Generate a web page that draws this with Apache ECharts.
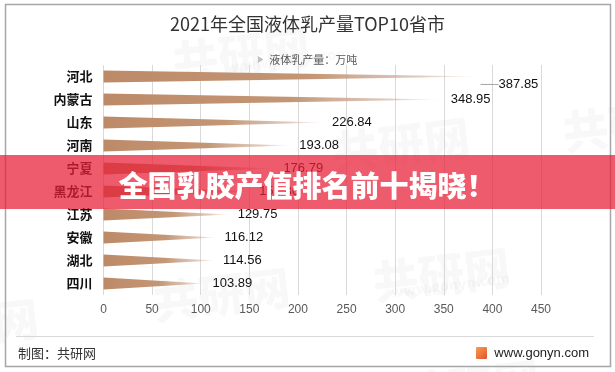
<!DOCTYPE html>
<html>
<head>
<meta charset="utf-8">
<script src="https://cdn.jsdelivr.net/npm/echarts@6/dist/echarts.min.js"></script>
<style>
html,body{margin:0;padding:0;background:#fff;}
#main{width:615px;height:372px;}
</style>
</head>
<body>
<div id="main"></div>
<script>
var categories = ['河北','内蒙古','山东','河南','宁夏','黑龙江','江苏','安徽','湖北','四川'];
var values = [387.85, 348.95, 226.84, 193.08, 176.79, 151.86, 129.75, 116.12, 114.56, 103.89];
var xTicks = [0, 50, 100, 150, 200, 250, 300, 350, 400, 450];
var titleText = '2021年全国液体乳产量TOP10省市';
var seriesName = '液体乳产量：万吨';
var bannerText = '全国乳胶产值排名前十揭晓！';

var cjk = '"Noto Sans CJK SC", "Noto Sans", sans-serif';
var chart = echarts.init(document.getElementById('main'), null, {renderer: 'canvas'});

function wm(x, y, size, rot, text) {
  return {
    type: 'text', x: x, y: y, rotation: rot, z: 0, silent: true,
    style: {text: text, fontSize: size, fontWeight: 900, fontFamily: cjk, fill: 'rgba(0,0,0,0.028)'}
  };
}

var barData = values.map(function (v, i) {
  var item = {value: v};
  if (i === 0) {
    item.labelLine = {show: true, length2: 4, lineStyle: {color: '#A6A6A6', width: 1}};
  }
  return item;
});

var option = {
  backgroundColor: '#fff',
  animation: false,
  title: {
    text: titleText, left: 'center', top: 10,
    textStyle: {fontSize: 18, fontWeight: 'normal', color: '#333', fontFamily: cjk}
  },
  legend: {
    top: 49, left: 'center',
    itemWidth: 7, itemHeight: 7, itemGap: 4,
    icon: 'path://M0,0 L8,5 L0,10 Z',
    textStyle: {fontSize: 11, color: '#595959', fontFamily: cjk},
    data: [{name: seriesName, itemStyle: {color: '#BFBFBF'}}]
  },
  grid: {left: 103.5, right: 74, top: 65, bottom: 77},
  xAxis: {
    type: 'value', min: xTicks[0], max: xTicks[xTicks.length - 1], interval: xTicks[1] - xTicks[0],
    axisLine: {show: false}, axisTick: {show: false},
    axisLabel: {color: '#595959', fontSize: 12, margin: 9, fontFamily: '"Liberation Sans", Arial, sans-serif'},
    splitLine: {show: true, lineStyle: {color: '#D9D9D9', width: 1}}
  },
  yAxis: {
    type: 'category', data: categories, inverse: true,
    axisLine: {show: false}, axisTick: {show: false},
    axisLabel: {color: '#111', fontSize: 13, fontWeight: 'bold', margin: 11, fontFamily: cjk}
  },
  series: [{
    name: seriesName,
    type: 'pictorialBar',
    data: barData,
    symbol: 'path://M0,0 L100,5 L0,10 Z',
    symbolSize: ['100%', 12],
    symbolPosition: 'start',
    symbolRepeat: false,
    itemStyle: {
      color: new echarts.graphic.LinearGradient(0, 0, 1, 0, [
        {offset: 0, color: '#BD8A68'},
        {offset: 0.55, color: '#C39675'},
        {offset: 0.85, color: 'rgba(205,170,150,0.6)'},
        {offset: 1, color: 'rgba(235,220,210,0.2)'}
      ])
    },
    label: {
      show: true, position: 'right', distance: 8,
      color: '#111', fontSize: 13, fontFamily: '"Liberation Sans", Arial, sans-serif'
    },
    labelLayout: function (p) {
      if (p.dataIndex === 0) { return {dx: 10, dy: 8}; }
      return {};
    },
    labelLine: {show: false}
  }],
  graphic: [
    wm(170, 40, 46, 0.12, '共研网'),
    wm(230, 60, 14, 0.12, 'www.gonyn.com'),
    wm(330, 130, 46, 0.12, '共研网'),
    wm(560, 110, 46, 0.12, '共研网'),
    wm(150, 280, 46, 0.12, '共研网'),
    wm(370, 260, 46, 0.12, '共研网'),
    wm(390, 285, 14, 0.12, 'www.gonyn.com'),
    wm(-10, 300, 46, 0.12, '网'),
    wm(400, 372, 46, 0.12, '共研网'),
    {
      type: 'rect', z: 50, silent: true,
      shape: {x: 5.5, y: 4.5, width: 605, height: 362},
      style: {fill: 'none', stroke: '#A6A6A6', lineWidth: 1.5}
    },
    {
      type: 'line', z: 50, silent: true,
      shape: {x1: 16, y1: 336.5, x2: 594, y2: 336.5},
      style: {stroke: '#D9D9D9', lineWidth: 1}
    },
    {
      type: 'text', z: 50, x: 18, y: 353, silent: true,
      style: {text: '制图：共研网', fontSize: 13, fill: '#333', fontFamily: cjk, textVerticalAlign: 'middle'}
    },
    {
      type: 'rect', z: 50, silent: true,
      shape: {x: 476, y: 347, width: 11, height: 12, r: 1},
      style: {fill: new echarts.graphic.LinearGradient(0, 0, 1, 1, [{offset: 0, color: '#F6A04D'}, {offset: 1, color: '#E2532F'}])}
    },
    {
      type: 'text', z: 50, x: 589, y: 353, silent: true,
      style: {text: 'www.gonyn.com', fontSize: 13, fill: '#222', fontFamily: '"Liberation Sans", Arial, sans-serif', textAlign: 'right', textVerticalAlign: 'middle'}
    },
    {
      type: 'rect', z: 100, silent: true,
      shape: {x: 0, y: 155, width: 615, height: 54},
      style: {fill: 'rgba(232,30,55,0.73)'}
    },
    {
      type: 'text', z: 101, x: 307, y: 186, silent: true,
      style: {text: bannerText, fontSize: 29, fontWeight: 900, fill: '#fff', fontFamily: cjk, textAlign: 'center', textVerticalAlign: 'middle'}
    }
  ]
};
chart.setOption(option);
</script>
</body>
</html>
